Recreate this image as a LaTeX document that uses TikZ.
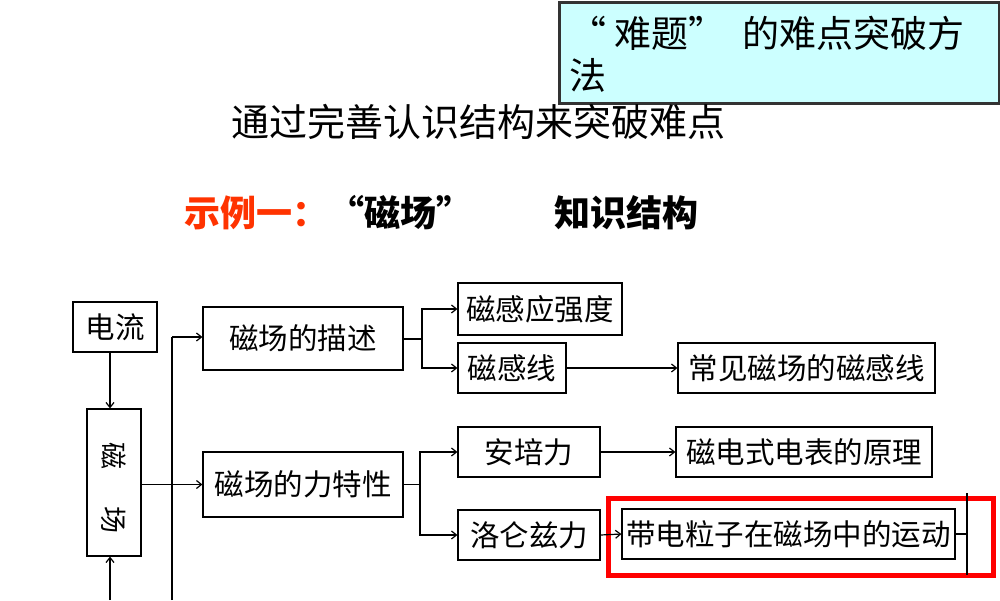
\documentclass[tikz,border=0pt]{standalone}
\usepackage{fontspec}
\setmainfont{Noto Sans CJK SC}
\usetikzlibrary{arrows.meta}
\definecolor{cyanbg}{HTML}{CCFFFF}
\definecolor{redtitle}{HTML}{FF3300}
\tikzset{
  box/.style={draw,line width=1.2pt,inner sep=0pt,font=\fontsize{29.5}{31}\selectfont},
  conn/.style={line width=1.2pt,-{Straight Barb[length=5pt,width=8pt]}},
  plain/.style={line width=1.2pt}
}
\begin{document}
\begin{tikzpicture}[x=1pt,y=-1pt]
\useasboundingbox (0,0) rectangle (1000,600);
% header box
\node[draw=black!80,line width=3pt,fill=cyanbg,minimum width=440pt,minimum height=101pt,anchor=north west,inner sep=0pt] (hdr) at (558,1) {};
\node[anchor=west,font=\fontsize{37}{39}\selectfont] (h1) at (566,33) {“ 难题”\ \ 的难点突破方};
\node[anchor=west,font=\fontsize{37}{39}\selectfont] (h2) at (566,75) {法};
\node[font=\fontsize{38}{40}\selectfont] (sub) at (478,122) {通过完善认识结构来突破难点};
\node[anchor=west,font=\bfseries\fontsize{36}{38}\selectfont] (ex) at (181,213) {\textcolor{redtitle}{示例一：}“磁场”};
\node[anchor=west,font=\bfseries\fontsize{36}{38}\selectfont] (ks) at (551,213) {知识结构};
% boxes
\node[box,minimum width=84pt,minimum height=50pt] (dl) at (115,327) {电流};
\node[box,minimum width=54pt,minimum height=147pt] (cc) at (114,482.5) {};
\node[font=\fontsize{27}{29}\selectfont] (c1) at (cc.center) [yshift=27pt] {\rotatebox{-90}{磁}};
\node[font=\fontsize{27}{29}\selectfont] (c2) at (cc.center) [yshift=-37pt] {\rotatebox{-90}{场}};
\node[box,minimum width=200pt,minimum height=63pt] (ms) at (303,338.5) {磁场的描述};
\node[box,minimum width=200pt,minimum height=65pt] (ml) at (303,484.5) {磁场的力特性};
\node[box,minimum width=164pt,minimum height=52pt] (b1) at (540,309) {磁感应强度};
\node[box,minimum width=108pt,minimum height=50pt] (b2) at (512,368) {磁感线};
\node[box,minimum width=257pt,minimum height=50pt] (b3) at (806.5,368) {常见磁场的磁感线};
\node[box,minimum width=142pt,minimum height=50pt] (b4) at (529,452) {安培力};
\node[box,minimum width=256pt,minimum height=50pt] (b5) at (804,452) {磁电式电表的原理};
\node[box,minimum width=142pt,minimum height=50pt] (b6) at (529,535) {洛仑兹力};
\node[box,minimum width=333pt,minimum height=50pt] (b7) at (788.5,534) {带电粒子在磁场中的运动};
\node[draw=red,line width=5pt,minimum width=385pt,minimum height=77pt,inner sep=0pt] (rb) at (801,537) {};
% coordinates
\coordinate (bot1) at (110,600);
\coordinate (vtop) at (172,337);
\coordinate (vbot) at (172,600);
\coordinate (j1) at (422,339);
\coordinate (j2) at (420,484.5);
\coordinate (e1) at (967,534);
% connectors
\draw[conn] (dl.south -| 110,0) -- (cc.north -| 110,0);
\draw[conn] (bot1) -- (cc.south -| 110,0);
\draw[plain] (vbot) -- (vtop);
\draw[conn] (vtop) -- (ms.west |- vtop);
\draw[conn] (cc.east |- ml.west) -- (ml.west);
\draw[plain] (ms.east |- j1) -- (j1);
\draw[conn] (j1) |- (b1.west);
\draw[conn] (j1) |- (b2.west);
\draw[plain] (ml.east) -- (j2);
\draw[conn] (j2) |- (b4.west);
\draw[conn] (j2) |- (b6.west);
\draw[conn] (b2.east) -- (b3.west);
\draw[conn] (b4.east) -- (b5.west);
\draw[conn] (b6.east) -- (b7.west);
\draw[plain] (b7.east) -- (e1);
\draw[plain] (967,493) -- (967,575);
\end{tikzpicture}
\end{document}
